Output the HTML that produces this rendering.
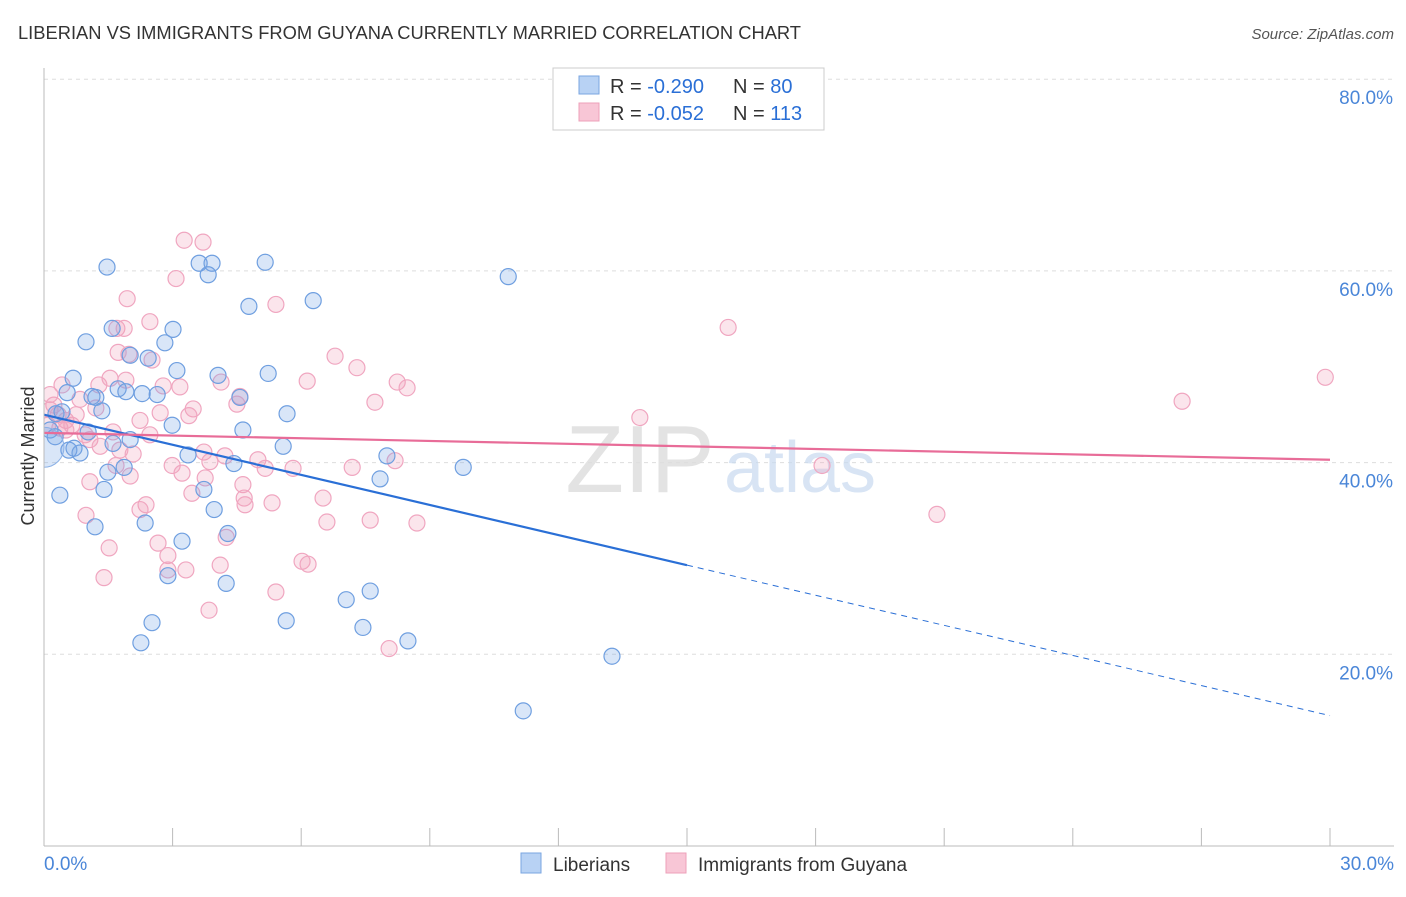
<!DOCTYPE html>
<html><head><meta charset="utf-8">
<style>
body{margin:0;background:#fff;font-family:"Liberation Sans",sans-serif;}
svg text{font-family:"Liberation Sans",sans-serif;}
</style></head>
<body>
<svg id="chart" width="1406" height="892" xmlns="http://www.w3.org/2000/svg">
<defs><clipPath id="plotclip"><rect x="44" y="60" width="1362" height="786"/></clipPath></defs>
<text x="18" y="39" font-size="18" fill="#333" textLength="783" lengthAdjust="spacingAndGlyphs">LIBERIAN VS IMMIGRANTS FROM GUYANA CURRENTLY MARRIED CORRELATION CHART</text>
<text x="1394" y="39" font-size="15" fill="#555" text-anchor="end" font-style="italic">Source: ZipAtlas.com</text>
<text transform="translate(34,456) rotate(-90)" font-size="18" fill="#333" text-anchor="middle">Currently Married</text>
<g id="grid"></g>
<g id="watermark">
<text x="640" y="492" font-size="96" fill="#ddd" text-anchor="middle" font-family="Liberation Serif" opacity="0.8">ZIP</text>
<text x="800" y="492" font-size="72" fill="#c8daf0" text-anchor="middle" opacity="0.7">atlas</text>
</g>
<g id="pts" clip-path="url(#plotclip)"></g>
<g id="lines"></g>
<g id="axes"></g>
<g>
<rect x="553" y="68" width="271" height="62" fill="#fff" stroke="#ccc"/>
<rect x="579" y="76" width="20" height="18" fill="#b8d2f4" stroke="#7aa6e0"/>
<text x="610" y="93" font-size="20" fill="#333">R = <tspan fill="#2a6fd6">-0.290</tspan></text>
<text x="733" y="93" font-size="20" fill="#333">N = <tspan fill="#2a6fd6">80</tspan></text>
<rect x="579" y="103" width="20" height="18" fill="#f8c6d6" stroke="#eea0ba"/>
<text x="610" y="120" font-size="20" fill="#333">R = <tspan fill="#2a6fd6">-0.052</tspan></text>
<text x="733" y="120" font-size="20" fill="#333">N = <tspan fill="#2a6fd6">113</tspan></text>
</g>
<g>
<rect x="521" y="853" width="20" height="20" fill="#b8d2f4" stroke="#7aa6e0"/>
<text x="553" y="871" font-size="19" fill="#333">Liberians</text>
<rect x="666" y="853" width="20" height="20" fill="#f8c6d6" stroke="#eea0ba"/>
<text x="698" y="871" font-size="19" fill="#333">Immigrants from Guyana</text>
</g>
</svg>
<script>
const blueX=[1.47,3.62,3.92,3.83,5.16,10.83,4.78,6.28,1.59,3.01,0.98,2.82,2.01,2.43,3.10,4.06,5.23,0.68,1.21,1.73,1.91,2.29,2.64,4.57,1.35,0.54,0.42,5.67,2.99,4.64,0.14,0.26,1.03,1.61,2.01,5.58,0.58,0.84,3.36,4.43,8.00,9.78,1.87,1.49,7.84,1.40,0.37,3.73,1.19,2.36,3.97,4.29,3.22,2.89,4.25,7.05,7.61,5.65,2.52,7.44,8.49,2.26,13.25,11.18,0.28,1.12,0.70];
const blueY=[60.4,60.8,60.8,59.6,60.9,59.4,56.3,56.9,54.0,53.9,52.6,52.5,51.2,50.9,49.6,49.1,49.3,48.8,46.8,47.7,47.4,47.2,47.1,46.8,45.4,47.3,45.3,45.1,43.9,43.4,43.4,42.7,43.2,42.0,42.4,41.7,41.3,41.0,40.8,39.9,40.7,39.5,39.5,39.0,38.3,37.2,36.6,37.2,33.3,33.7,35.1,32.6,31.8,28.2,27.4,25.7,26.6,23.5,23.3,22.8,21.4,21.2,19.8,14.1,45.1,46.9,41.5];
const pinkX=[3.27,3.71,1.94,3.08,5.41,1.70,1.87,2.47,1.98,1.73,2.52,6.79,7.30,15.96,29.89,26.55,7.72,8.24,8.47,6.14,2.78,3.17,4.13,4.57,4.50,3.48,3.38,1.28,1.54,1.91,0.42,0.84,1.21,13.90,2.47,1.61,1.07,0.23,0.14,0.33,0.51,0.65,0.09,0.37,0.51,0.75,0.96,1.31,1.77,2.08,3.73,3.87,4.22,4.99,5.16,5.81,2.99,3.22,7.19,8.19,18.15,2.01,1.07,1.68,3.76,4.64,3.45,4.67,4.69,5.32,2.38,2.24,6.51,7.61,8.70,6.60,4.25,0.98,2.66,1.52,2.89,4.11,3.31,2.89,1.40,6.02,6.16,5.41,3.85,8.05,20.83,0.14,2.24,2.71];
const pinkY=[63.2,63.0,57.1,59.2,56.5,54.0,54.0,54.7,51.3,51.5,50.7,51.1,49.9,54.1,48.9,46.4,46.3,48.4,47.8,48.5,48.0,47.9,48.4,46.9,46.1,45.6,44.9,48.1,48.8,48.6,48.1,46.6,45.7,44.7,42.9,43.2,42.4,46.0,45.5,45.0,44.4,43.9,43.9,43.6,43.4,45.0,42.9,41.7,41.3,40.9,41.1,40.1,40.7,40.3,39.4,39.4,39.7,38.9,39.5,40.2,39.7,38.6,38.0,39.7,38.4,37.7,36.8,36.3,35.6,35.8,35.6,35.1,36.3,34.0,33.7,33.8,32.2,34.5,31.6,31.1,30.3,29.3,28.8,28.8,28.0,29.7,29.4,26.5,24.6,20.6,34.6,47.1,44.4,45.2];
const blueTrend=[45.0,13.6];
const pinkTrend=[43.1,40.3];
const yTicks=[20,40,60,80];
const xTickLabels=["0.0%","30.0%"];
const NS="http://www.w3.org/2000/svg";
const xs=v=>44+v*(1286/30);
const ys=v=>846-v*9.585;
function mk(tag,attrs,parent){const e=document.createElementNS(NS,tag);for(const k in attrs)e.setAttribute(k,attrs[k]);parent.appendChild(e);return e;}
const grid=document.getElementById('grid'),axes=document.getElementById('axes'),pts=document.getElementById('pts'),lines=document.getElementById('lines');
yTicks.forEach(t=>{
  const l=mk('line',{x1:44,x2:1394,y1:ys(t),y2:ys(t),stroke:'#ddd','stroke-dasharray':'4,4'},grid);
  
  
  const tx=mk('text',{x:1393,y:ys(t)+25,'font-size':19,fill:'#4a86d8','text-anchor':'end'},axes);
  tx.textContent=t.toFixed(1)+'%';
  
  
});
mk('line',{x1:44,x2:44,y1:68,y2:846,stroke:'#bbb'},axes);
mk('line',{x1:44,x2:1394,y1:846,y2:846,stroke:'#bbb'},axes);
for(let i=0;i<=10;i++){mk('line',{x1:xs(i*3),x2:xs(i*3),y1:828,y2:846,stroke:'#bbb'},axes);}
[[0,'start',44],[30,'end',1394]].forEach((a,i)=>{const t=mk('text',{x:a[2],y:870,'font-size':19,fill:'#4a86d8','text-anchor':a[1]},axes);t.textContent=xTickLabels[i];

});
pinkX.forEach((x,i)=>{const c=mk('circle',{cx:xs(x),cy:ys(pinkY[i]),r:8,fill:'rgba(242,160,188,0.28)',stroke:'#f0a6c0','stroke-width':1.2},pts);

});
blueX.forEach((x,i)=>{const c=mk('circle',{cx:xs(x),cy:ys(blueY[i]),r:8,fill:'rgba(120,165,230,0.28)',stroke:'#6f9fe0','stroke-width':1.2},pts);

});
const big=mk('circle',{cx:xs(0),cy:ys(41.6),r:20,fill:'rgba(120,165,230,0.28)',stroke:'#8ab0e6','stroke-width':1},pts);


const bAt=x=>blueTrend[0]+(blueTrend[1]-blueTrend[0])*x/30;
const l1=mk('line',{x1:xs(0),y1:ys(bAt(0)),x2:xs(15),y2:ys(bAt(15)),stroke:'#2a6fd6','stroke-width':2.2},lines);


const l2=mk('line',{x1:xs(15),y1:ys(bAt(15)),x2:xs(30),y2:ys(bAt(30)),stroke:'#2a6fd6','stroke-width':1,'stroke-dasharray':'6,5'},lines);


const l3=mk('line',{x1:xs(0),y1:ys(pinkTrend[0]),x2:xs(30),y2:ys(pinkTrend[1]),stroke:'#e86c98','stroke-width':2.2},lines);


</script>
</body></html>
